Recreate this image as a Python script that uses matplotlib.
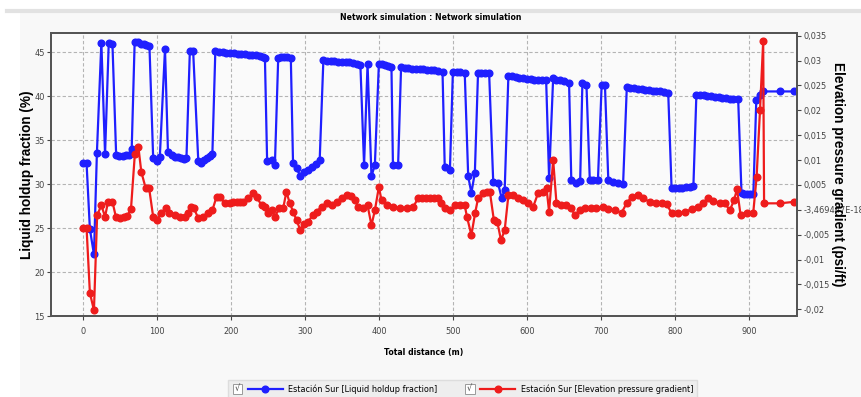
import numpy as np
import matplotlib
matplotlib.use('Agg')
import matplotlib.pyplot as plt
from matplotlib.lines import Line2D
from matplotlib.patches import Rectangle
from matplotlib.text import Text
from matplotlib.legend_handler import HandlerLine2D

# ---------------- data ----------------
# Liquid holdup fraction (%) -- left axis
dist_holdup = [0, 5, 9.5, 15, 19, 25, 30, 35, 40, 45, 49, 54, 58, 62, 66, 70, 74, 78, 82, 86, 90,
               95, 99.6, 104, 111, 115, 120, 124, 128, 132, 136, 140, 144.6, 149, 156, 160, 164, 168,
               172, 175, 179, 184, 189, 194, 199, 204, 209, 214, 219, 224, 229, 234, 239, 243, 246,
               249, 255, 259.5, 264, 268, 272, 276, 281, 284, 288.8, 294, 298.6, 304.5, 309, 315, 320,
               325, 330, 335, 340, 345, 350, 355, 360, 365, 370, 375, 380, 384.7, 390, 394.6, 400, 404,
               408, 412, 417, 419, 426, 430, 435, 440, 445, 450, 455, 460, 465, 470, 475, 480, 486,
               489, 496, 500, 505, 510, 516, 520.7, 525, 529.7, 534, 538, 543, 549, 554.5, 561, 566,
               570, 575, 580, 585, 590, 595, 600, 605, 610, 615, 620, 626, 630, 635.5, 640, 645, 650,
               657, 660, 667, 672, 675, 680.5, 685, 690, 696, 701, 705.5, 710, 716.6, 723, 730, 735,
               740, 745, 750, 755, 760, 765, 770, 775, 780, 785, 791, 795.5, 800, 805, 810, 815, 820,
               825, 829, 834, 839, 844, 849, 854, 859, 864, 869, 874, 879, 885.5, 890, 894, 898, 902,
               906, 910, 915, 919.3, 942, 961]
holdup = [32.4, 32.4, 24.9, 22.0, 33.6, 46.1, 33.4, 46.1, 45.9, 33.3, 33.2, 33.2, 33.3, 33.3, 34.0,
          46.2, 46.2, 46.0, 45.9, 45.8, 45.7, 33.0, 32.6, 33.1, 45.4, 33.7, 33.3, 33.1, 33.1, 33.0,
          32.9, 33.0, 45.2, 45.2, 32.6, 32.4, 32.8, 33.0, 33.2, 33.4, 45.1, 45.0, 45.0, 44.9, 44.9,
          44.9, 44.8, 44.8, 44.8, 44.7, 44.7, 44.7, 44.6, 44.5, 44.4, 32.6, 32.7, 32.2, 44.4, 44.5,
          44.5, 44.5, 44.4, 32.4, 31.8, 30.9, 31.4, 31.6, 32.0, 32.3, 32.7, 44.1, 44.0, 44.0, 44.0,
          43.95, 43.9, 43.9, 43.85, 43.8, 43.7, 43.6, 32.2, 43.65, 30.9, 32.2, 43.7, 43.65, 43.55,
          43.45, 43.3, 32.2, 32.2, 43.3, 43.25, 43.2, 43.15, 43.1, 43.1, 43.05, 43.0, 43.0, 42.95,
          42.9, 42.8, 31.9, 31.6, 42.8, 42.75, 42.75, 42.7, 30.9, 29.0, 31.3, 42.7, 42.65, 42.6,
          42.6, 30.3, 30.1, 28.4, 29.35, 42.3, 42.25, 42.2, 42.1, 42.05, 42.0, 41.95, 41.9, 41.9,
          41.9, 41.9, 30.7, 42.1, 41.9, 41.8, 41.7, 41.5, 30.5, 30.1, 30.4, 41.5, 41.3, 30.5, 30.5,
          30.5, 41.25, 41.25, 30.5, 30.3, 30.1, 30.0, 41.0, 40.95, 40.9, 40.85, 40.8, 40.75, 40.7,
          40.6, 40.55, 40.55, 40.45, 40.35, 29.55, 29.55, 29.55, 29.6, 29.65, 29.7, 29.8, 40.1,
          40.1, 40.1, 40.05, 40.0, 39.95, 39.9, 39.8, 39.75, 39.7, 39.7, 39.7, 29.0, 28.9, 28.9,
          28.9, 28.9, 39.6, 40.2, 40.55, 40.55, 40.55]

# Elevation pressure gradient (psi/ft) -- right axis
dist_grad = [0, 5, 9.5, 15, 19.3, 25, 30, 34, 40, 44.6, 50, 55, 60, 65, 70.3, 75, 79, 85, 89.6, 95,
             99.6, 106, 112, 117, 124, 131, 138, 142, 146, 150, 156, 162.6, 169, 175, 180.6, 185,
             191.6, 198.6, 203, 207.7, 212, 216.6, 223.4, 230, 234.7, 241.5, 246, 250.4, 255, 259.5,
             265.3, 270.7, 275, 279.7, 284.2, 288.8, 294, 298.6, 304.5, 310.4, 315.8, 322.6, 329.3,
             336, 342.8, 349.6, 356.3, 361.7, 367.6, 372, 378.8, 384.7, 390, 394.6, 400, 403.6,
             410.4, 419.3, 428.4, 437.4, 446.4, 453, 458, 464, 469, 474, 480, 484, 489, 496, 503,
             509, 516, 519, 525, 530, 534, 541, 546, 550, 555.4, 560, 565, 570, 575, 581.5, 588,
             595, 602, 608.5, 615, 622, 626.6, 630, 635.5, 640, 646.6, 653.4, 660, 664.9, 671.6,
             678.4, 687, 694, 703, 710, 719, 728, 734.7, 741.5, 750.4, 757, 766, 775, 782, 788.8,
             795.5, 804.5, 813.5, 822.5, 831.5, 838, 845, 851.8, 860.8, 867.6, 874.3, 879.7, 884,
             888.8, 896.9, 905.8, 910.4, 915, 919.3, 920.5, 941.9, 961]
grad = [-0.0036, -0.0036, -0.0167, -0.0202, -0.0011, 0.0009, -0.0014, 0.0016, 0.0016, -0.0014,
        -0.0017, -0.0015, -0.0012, 0.0001, 0.0113, 0.0127, 0.0076, 0.0043, 0.0043, -0.0014,
        -0.0021, -0.0007, 0.0003, -0.0007, -0.0011, -0.0014, -0.0014, -0.0007, 0.0006, 0.0003,
        -0.0017, -0.0014, -0.0006, -0.0001, 0.0026, 0.0026, 0.0013, 0.0013, 0.0015, 0.0016,
        0.0016, 0.0016, 0.0023, 0.0033, 0.0026, 0.0009, 0.0006, -0.0006, -0.0001, -0.0014,
        0.0003, 0.0003, 0.0036, 0.0013, -0.0004, -0.0021, -0.0041, -0.0028, -0.0024, -0.0011,
        -0.0004, 0.0006, 0.0013, 0.0009, 0.0016, 0.0023, 0.0029, 0.0028, 0.0019, 0.0006, 0.0003,
        0.0009, -0.0031, -0.0001, 0.0046, 0.0019, 0.0009, 0.0006, 0.0003, 0.0003, 0.0006, 0.0023,
        0.0023, 0.0023, 0.0023, 0.0023, 0.0023, 0.0013, 0.0003, -0.0001, 0.0009, 0.0009, 0.0009,
        -0.0014, -0.0051, -0.0007, 0.0023, 0.0033, 0.0035, 0.0036, -0.0021, -0.0024, -0.0061,
        -0.0041, 0.0029, 0.0029, 0.0023, 0.0019, 0.0013, 0.0006, 0.0033, 0.0036, 0.0043, -0.0004,
        0.0100, 0.0013, 0.0009, 0.0009, 0.0003, -0.0011, -0.0001, 0.0003, 0.0003, 0.0003, 0.0006,
        0.0001, -0.0001, -0.0006, 0.0013, 0.0026, 0.0029, 0.0023, 0.0016, 0.0014, 0.0013, 0.0011,
        -0.0006, -0.0007, -0.0004, 0.0001, 0.0006, 0.0013, 0.0023, 0.0018, 0.0013, 0.0013,
        -0.0001, 0.0019, 0.0041, -0.0011, -0.0006, -0.0007, 0.0066, 0.0200, 0.0339, 0.0013,
        0.0013, 0.0016]

x_ticks = [0, 100, 200, 300, 400, 500, 600, 700, 800, 900]
left_ticks = [15, 20, 25, 30, 35, 40, 45]
right_ticks = [0.035, 0.03, 0.025, 0.02, 0.015, 0.01, 0.005, 0.0, -0.005, -0.01, -0.015, -0.02]
right_tick_labels = ['0,035', '0,03', '0,025', '0,02', '0,015', '0,01', '0,005', '-3,469447E-18',
                     '-0,005', '-0,01', '-0,015', '-0,02']
label_holdup = 'Estación Sur [Liquid holdup fraction]'
label_grad = 'Estación Sur [Elevation pressure gradient]'

plt.rcParams['font.family'] = ['Liberation Sans Narrow', 'DejaVu Sans']
plt.rcParams['font.stretch'] = 'condensed'


class CheckLine(HandlerLine2D):
    # legend entry: small checkbox with a tick, then the line with its marker
    def create_artists(self, legend, orig_handle, xdescent, ydescent, width, height, fontsize, trans):
        box = height * 1.55
        off = box + 4
        arts = super().create_artists(legend, orig_handle, xdescent - off, ydescent,
                                      width - off, height, fontsize, trans)
        y0 = -ydescent + (height - box) / 2
        r = Rectangle((-xdescent, y0), box, box, facecolor='white', edgecolor='#9a9a9a',
                      lw=0.7, transform=trans)
        t = Text(-xdescent + box / 2, -ydescent + height / 2, '√', ha='center', va='center',
                 fontsize=fontsize, color='#444444', transform=trans)
        return [r, t] + list(arts)


fig = plt.figure(figsize=(8.62, 3.97), dpi=100)
fig.patch.set_facecolor('white')
fig.add_artist(Rectangle((0.023, 0), 0.977, 0.968, transform=fig.transFigure,
                         facecolor='#f8f8f8', edgecolor='none', zorder=-10))
fig.add_artist(Line2D([0.008, 1], [0.972, 0.972], transform=fig.transFigure,
                      color='#e2e2e2', lw=3, zorder=-9))

ax = fig.add_axes([0.0592, 0.204, 0.8654, 0.7129])
ax.set_facecolor('#fafafa')
ax2 = ax.twinx()

l1, = ax.plot(dist_holdup, holdup, '-o', color='#1f1fff', lw=1.6, ms=4.8)
l2, = ax2.plot(dist_grad, grad, '-o', color='#ee1c1c', lw=1.6, ms=4.8)

ax.set_xlim(-43, 965)
ax.set_ylim(15, 47.2)
ax2.set_ylim(-0.02135, 0.03554)
ax.set_xticks(x_ticks)
ax.set_yticks(left_ticks)
ax2.set_yticks(right_ticks)
ax2.set_yticklabels(right_tick_labels)
ax.grid(True, color='#b4b4b4', linestyle=(0, (3, 2)), lw=0.8)

for a in (ax, ax2):
    for s in a.spines.values():
        s.set_color('#555555')
        s.set_linewidth(1.4)
    a.tick_params(labelsize=6.6, colors='#444444', length=3, width=0.8, pad=1.5)
ax.tick_params(axis='x', pad=5)

fig.text(0.5, 0.957, 'Network simulation : Network simulation', ha='center', va='center',
         fontweight='bold', fontsize=6.2)
fig.text(0.492, 0.111, 'Total distance (m)', ha='center', va='center', fontweight='bold', fontsize=6.2)
fig.text(0.031, 0.5605, 'Liquid holdup fraction (%)', rotation=90, ha='center', va='center',
         fontweight='bold', fontsize=9.8, family=['Liberation Sans', 'DejaVu Sans'])
fig.text(0.972, 0.5605, 'Elevation pressure gradient (psi/ft)', rotation=270, ha='center',
         va='center', fontweight='bold', fontsize=9.8, family=['Liberation Sans', 'DejaVu Sans'])

fig.legend([l1, l2], [label_holdup, label_grad], loc='upper center', bbox_to_anchor=(0.537, 0.053),
           ncol=2, frameon=True, fancybox=False, facecolor='#ececec', edgecolor='#d8d8d8',
           fontsize=6.5, handlelength=5.6, handletextpad=0.6, columnspacing=3.0, borderpad=0.45,
           handler_map={Line2D: CheckLine(numpoints=1)})

fig.savefig('out.png', dpi=100)
